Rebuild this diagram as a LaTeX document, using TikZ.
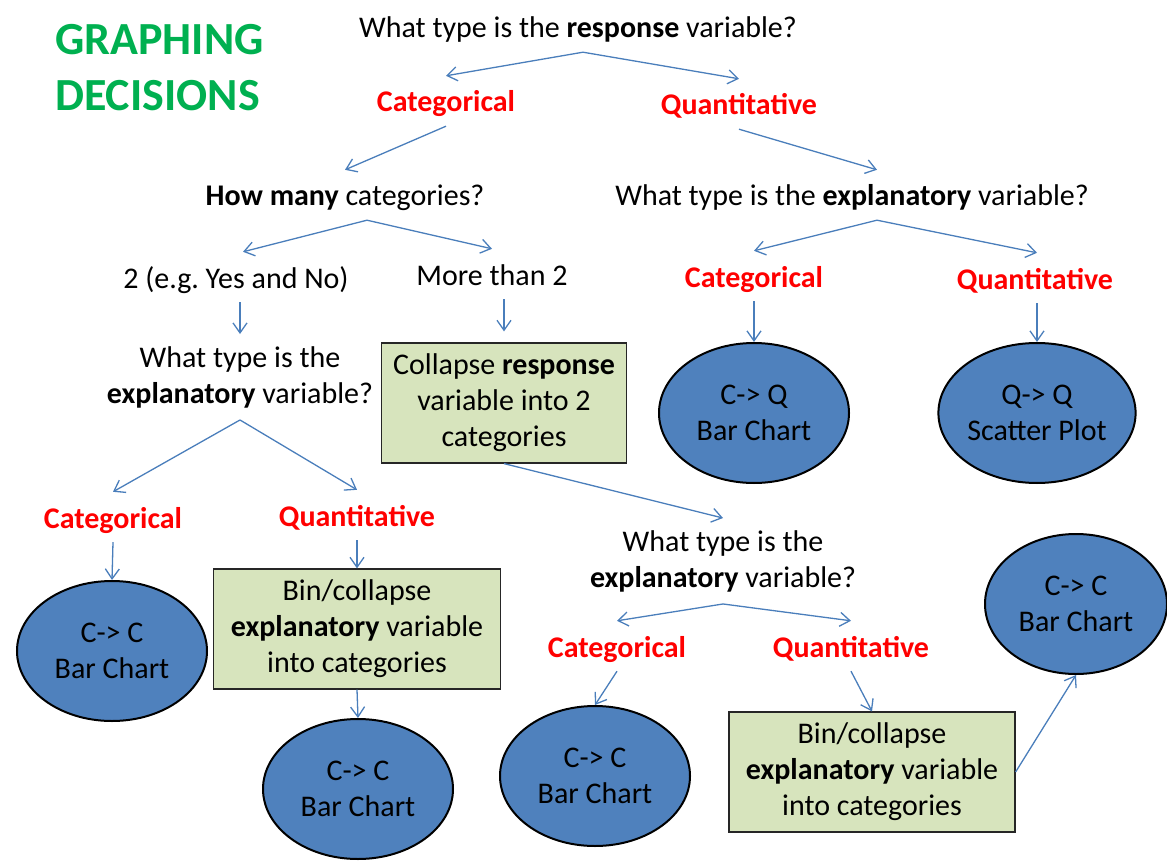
\documentclass[tikz,border=0pt]{standalone}
\usepackage{fontspec}
\setmainfont{Carlito}
\usetikzlibrary{arrows.meta,shapes.geometric}
\definecolor{arrblue}{HTML}{4A7EBB}
\definecolor{ellblue}{HTML}{4F81BD}
\definecolor{boxgreen}{HTML}{D7E4BD}
\definecolor{titlegreen}{HTML}{00B050}
\begin{document}
\begin{tikzpicture}[x=1pt,y=-1pt,
 every node/.style={font=\fontsize{30}{36}\selectfont},
 lbl/.style={inner sep=0pt, inner ysep=11pt, text height=25pt, text depth=3pt},
 redlbl/.style={lbl, text=red, font=\fontsize{30}{36}\selectfont\bfseries},
 multi/.style={align=center, inner sep=0pt, inner ysep=12pt},
 ell/.style={ellipse, draw=black, line width=2pt, fill=ellblue, minimum width=190pt, minimum height=140pt, inner sep=0pt, align=center},
 gbox/.style={rectangle, draw=black!85, line width=1.2pt, fill=boxgreen, minimum width=245pt, minimum height=120pt, align=center, inner sep=0pt},
 arr/.style={draw=arrblue, line width=1.3pt, -{Straight Barb[length=10pt,width=14pt]}}
]
\useasboundingbox (0,0) rectangle (1167,861);
\node[anchor=west, text=titlegreen, font=\fontsize{46}{56}\selectfont\bfseries, align=left, inner sep=0pt] (title) at (55,68) {GRAPHING\\DECISIONS};

\node[lbl] (q1) at (578,27) {What type is the \textbf{response} variable?};
\node[redlbl] (cat1) at (446,101) {Categorical};
\node[redlbl] (quant1) at (739,104) {Quantitative};
\node[lbl] (howmany) at (345,195) {\textbf{How many} categories?};
\node[lbl] (expl1) at (852,195) {What type is the \textbf{explanatory} variable?};
\node[lbl] (two) at (236,277) {2 (e.g.\ Yes and No)};
\node[lbl] (more) at (492,274) {More than 2};
\node[redlbl] (cat2) at (754,276) {Categorical};
\node[redlbl] (quant2) at (1035,278) {Quantitative};
\node[multi] (expl2) at (240,377) {What type is the\\\textbf{explanatory} variable?};
\node[gbox] (coll) at (504,403) {\raisebox{-3pt}{\parbox{240pt}{\centering Collapse \textbf{response}\\variable into 2\\categories}}};
\node[ell] (cq) at (754,413) {C-> Q\\Bar Chart};
\node[ell] (qq) at (1037,413) {Q-> Q\\Scatter Plot};
\node[redlbl] (cat3) at (113,517) {Categorical};
\node[redlbl] (quant3) at (357,515) {Quantitative};
\node[ell] (cc1) at (112,651) {C-> C\\Bar Chart};
\node[gbox, minimum width=287pt] (bin1) at (357,629) {\raisebox{-3pt}{\parbox{280pt}{\centering Bin/collapse\\\textbf{explanatory} variable\\into categories}}};
\node[ell] (cc2) at (358,789) {C-> C\\Bar Chart};
\node[multi] (expl3) at (723,561) {What type is the\\\textbf{explanatory} variable?};
\node[redlbl] (cat4) at (617,646) {Categorical};
\node[redlbl] (quant4) at (851,646) {Quantitative};
\node[ell] (cc3) at (595,776) {C-> C\\Bar Chart};
\node[gbox, minimum width=286pt] (bin2) at (872,772) {\raisebox{-3pt}{\parbox{280pt}{\centering Bin/collapse\\\textbf{explanatory} variable\\into categories}}};
\node[ell, minimum width=182pt] (cc4) at (1076,604) {C-> C\\Bar Chart};

\draw[arr] ([xshift=5pt]q1.south) -- (cat1.north);
\draw[arr] ([xshift=5pt]q1.south) -- (quant1.north);
\draw[arr] (cat1.south) -- (howmany.north);
\draw[arr] (quant1.south) -- ([xshift=25pt]expl1.north);
\draw[arr] ([xshift=22pt]howmany.south) -- ([xshift=7pt]two.north);
\draw[arr] ([xshift=22pt]howmany.south) -- (more.north);
\draw[arr] ([xshift=25pt]expl1.south) -- (cat2.north);
\draw[arr] ([xshift=25pt]expl1.south) -- ([xshift=2pt]quant2.north);
\draw[arr] (two.south -| expl2.north) -- (expl2.north);
\draw[arr, shorten >=11pt] (more.south -| coll.north) -- (coll.north);
\draw[arr] (cat2.south) -- (cq.north);
\draw[arr] ([xshift=2pt]quant2.south) -- (qq.north);
\draw[arr] (expl2.south) -- (cat3.north);
\draw[arr] (expl2.south) -- (quant3.north);
\draw[arr] (cat3.south) -- (cc1.north);
\draw[arr] (quant3.south) -- (bin1.north);
\draw[arr] (bin1.south) -- (cc2.north);
\draw[arr] (coll.south) -- (expl3.north);
\draw[arr] (expl3.south) -- (cat4.north);
\draw[arr] (expl3.south) -- (quant4.north);
\draw[arr] (cat4.south) -- (cc3.north);
\draw[arr] (quant4.south) -- (bin2.north);
\draw[arr] (bin2.east) -- (cc4.south);
\end{tikzpicture}
\end{document}
